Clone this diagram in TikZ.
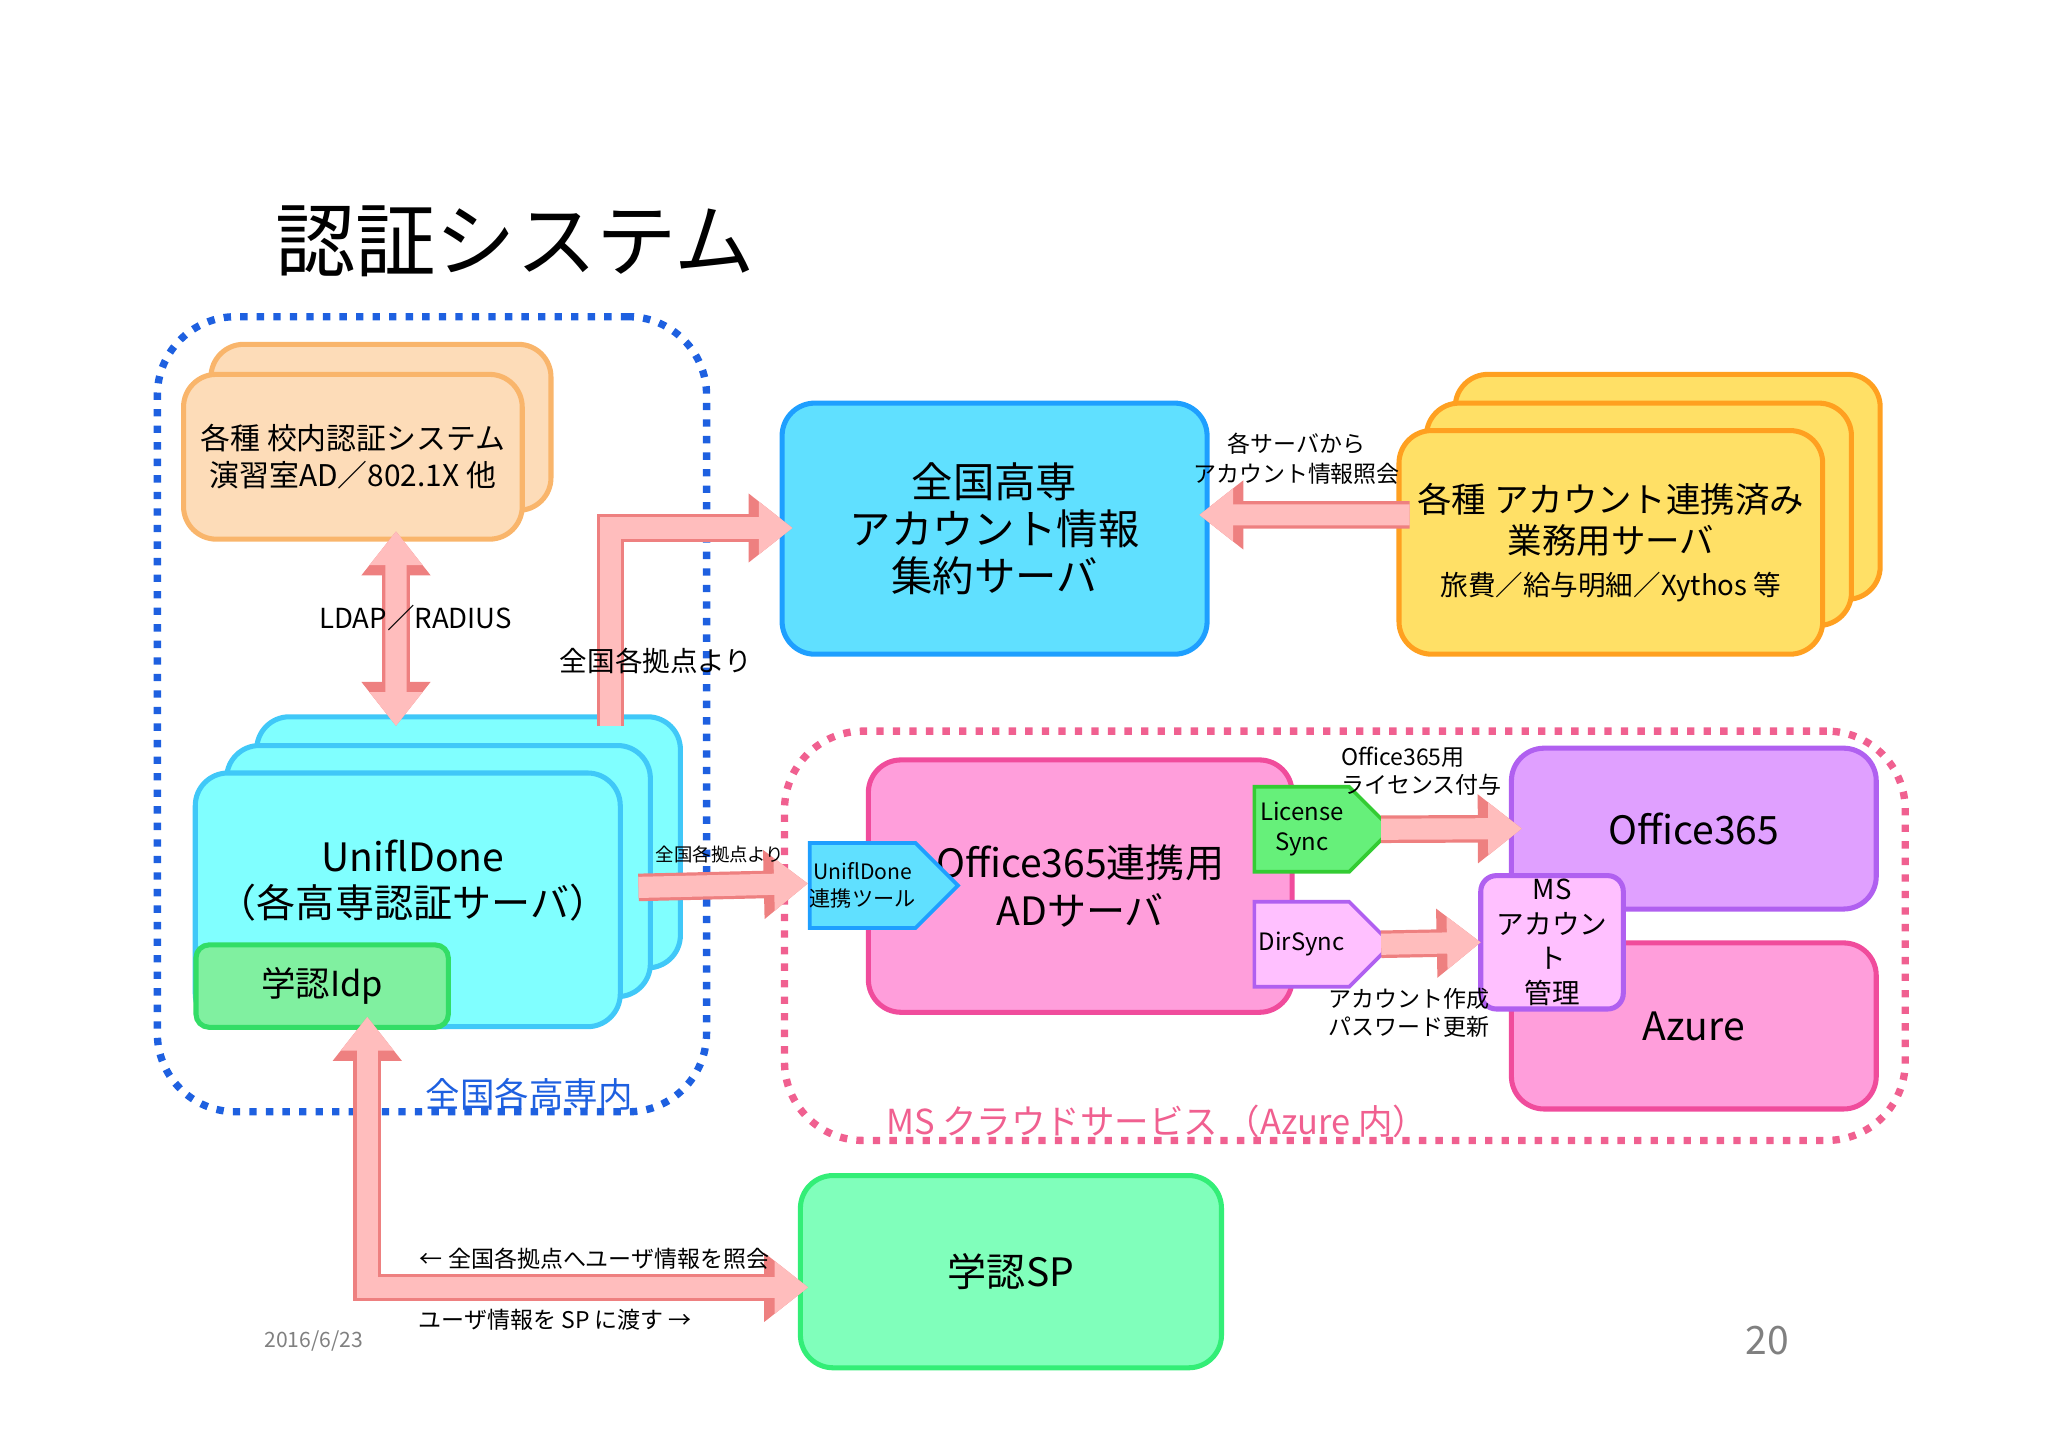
\documentclass[tikz,border=0pt]{standalone}
\usepackage{fontspec}
\setmainfont{Noto Sans CJK JP}
\usetikzlibrary{positioning,shapes.symbols,arrows.meta}
\definecolor{fatfill}{HTML}{FFBDBD}
\definecolor{fatline}{HTML}{EE8080}
\definecolor{oraf}{HTML}{FDDCB8}\definecolor{orad}{HTML}{F9B56B}
\definecolor{cyaf}{HTML}{80FFFF}\definecolor{cyad}{HTML}{40C8F8}
\definecolor{grnf}{HTML}{80F0A0}\definecolor{grnd}{HTML}{33DD66}
\definecolor{bluf}{HTML}{60E0FF}\definecolor{blud}{HTML}{1E9FFF}
\definecolor{yelf}{HTML}{FFE066}\definecolor{yeld}{HTML}{FFA020}
\definecolor{pnkf}{HTML}{FF9EDB}\definecolor{pnkd}{HTML}{F04C9C}
\definecolor{viof}{HTML}{E0A0FF}\definecolor{viod}{HTML}{B060F0}
\definecolor{lvif}{HTML}{FFC0FF}\definecolor{licf}{HTML}{66F07A}\definecolor{licd}{HTML}{33CC33}
\definecolor{spf}{HTML}{80FFBB}\definecolor{spd}{HTML}{33EE77}
\definecolor{regb}{HTML}{1E60E0}\definecolor{regp}{HTML}{F06090}
\tikzset{
  box/.style={draw, rounded corners=0.25cm, line width=1.1pt, inner sep=0pt, align=center},
  tag/.style={draw, signal, signal to=east, line width=0.8pt, inner sep=0pt, align=center},
  region/.style={draw, dotted, line width=1.6pt, rounded corners=0.6cm},
  lbl/.style={inner sep=1pt, align=center},
  fat/.style={line width=4.6pt, draw=fatfill, -{Triangle[length=0pt 1.6,width=0pt 2.4]},
    preaction={draw=fatline, line width=6pt, -{Triangle[length=0pt 1.6,width=0pt 2.4]}}},
  fatboth/.style={line width=4.6pt, draw=fatfill, {Triangle[length=0pt 1.6,width=0pt 2.4]}-{Triangle[length=0pt 1.6,width=0pt 2.4]},
    preaction={draw=fatline, line width=6pt, {Triangle[length=0pt 1.6,width=0pt 2.4]}-{Triangle[length=0pt 1.6,width=0pt 2.4]}}}
}
\begin{document}
\begin{tikzpicture}[x=0.01cm, y=-0.01cm]
\useasboundingbox (0,0) rectangle (1567,1107);
% title
\node[anchor=west, font=\fontsize{17.5pt}{20pt}\selectfont] (title) at (198,185) {認証システム};
% regions
\node[region, draw=regb, minimum width=4.2cm, minimum height=6.08cm] (kosen) at (330.5,546.5) {};
\node[region, draw=regp, minimum width=8.57cm, minimum height=3.13cm] (cloud) at (1029,716) {};
\node[lbl, text=regb, font=\fontsize{7.5pt}{9pt}\selectfont] (kosenlbl) at (405,837) {全国各高専内};
\node[lbl, text=regp, font=\fontsize{7.5pt}{9pt}\selectfont] (cloudlbl) at (885,858) {MS クラウドサービス （Azure 内）};
% campus auth
\node[box, fill=oraf, draw=orad, minimum width=2.6cm, minimum height=1.27cm] (ora2) at (291.5,327) {};
\node[box, fill=oraf, draw=orad, minimum width=2.59cm, minimum height=1.26cm, font=\fontsize{6.5pt}{8pt}\selectfont] (ora1) at (270,349.5) {各種 校内認証システム\\演習室AD／802.1X 他};
% UniflDone stack
\node[box, fill=cyaf, draw=cyad, minimum width=3.24cm, minimum height=1.92cm] (cya3) at (358.5,644.5) {};
\node[box, fill=cyaf, draw=cyad, minimum width=3.24cm, minimum height=1.92cm] (cya2) at (335.5,666.5) {};
\node[box, fill=cyaf, draw=cyad, minimum width=3.25cm, minimum height=1.94cm] (cya1) at (312,688.5) {};
\node[lbl, font=\fontsize{8.5pt}{10pt}\selectfont] (cyatext) at ([xshift=0.04cm, yshift=0.15cm]cya1.center) {UniflDone\\（各高専認証サーバ）};
\node[box, fill=grnf, draw=grnd, minimum width=1.93cm, minimum height=0.63cm, rounded corners=0.1cm, font=\fontsize{7.5pt}{9pt}\selectfont] (idp) at (246.5,754.5) {学認Idp};
% aggregation server
\node[box, fill=bluf, draw=blud, minimum width=3.25cm, minimum height=1.92cm, font=\fontsize{9pt}{10.2pt}\selectfont] (agg) at (761,404.5) {全国高専\\アカウント情報\\集約サーバ};
% business servers
\node[box, fill=yelf, draw=yeld, minimum width=3.25cm, minimum height=1.72cm] (yel3) at (1276,372.5) {};
\node[box, fill=yelf, draw=yeld, minimum width=3.25cm, minimum height=1.70cm] (yel2) at (1254,393.5) {};
\node[box, fill=yelf, draw=yeld, minimum width=3.24cm, minimum height=1.71cm, font=\fontsize{7.5pt}{9pt}\selectfont] (yel1) at (1232.5,415) {各種 アカウント連携済み\\業務用サーバ\\{\fontsize{6pt}{8pt}\selectfont 旅費／給与明細／Xythos 等}};
% cloud side
\node[box, fill=pnkf, draw=pnkd, minimum width=3.24cm, minimum height=1.93cm, font=\fontsize{8.5pt}{10.5pt}\selectfont] (ad) at (826.5,678) {Office365連携用\\ADサーバ};
\node[tag, fill=bluf, draw=blud, minimum width=1.0cm, minimum height=0.65cm, font=\fontsize{4.6pt}{6pt}\selectfont] (tool) at (660,677.5) {UniflDone\\連携ツール};
\node[tag, fill=licf, draw=licd, minimum width=1.05cm, minimum height=0.65cm, font=\fontsize{5.2pt}{6.5pt}\selectfont] (lic) at (996,634.5) {License\\Sync};
\node[tag, fill=lvif, draw=viod, minimum width=1.05cm, minimum height=0.65cm, font=\fontsize{5.2pt}{6.5pt}\selectfont] (dir) at (996,722.5) {DirSync};
\node[box, fill=viof, draw=viod, minimum width=2.79cm, minimum height=1.23cm, font=\fontsize{8.5pt}{10pt}\selectfont] (o365) at (1296,634) {Office365};
\node[box, fill=pnkf, draw=pnkd, minimum width=2.79cm, minimum height=1.27cm, font=\fontsize{8.5pt}{10pt}\selectfont] (azure) at (1296,785) {Azure};
\node[box, fill=lvif, draw=viod, minimum width=1.09cm, minimum height=1.02cm, rounded corners=0.12cm, font=\fontsize{6pt}{7.6pt}\selectfont] (msacc) at (1187.5,721) {MS\\アカウン\\ト\\管理};
% SP
\node[box, fill=spf, draw=spd, minimum width=3.22cm, minimum height=1.47cm, font=\fontsize{8.5pt}{10pt}\selectfont] (sp) at (773.5,973) {学認SP};
% connectors
\draw[fatboth] ([xshift=0.33cm, yshift=0.08cm]ora1.south) -- ([xshift=-0.555cm, yshift=-0.09cm]cya3.north);
\draw[fat] ([xshift=1.085cm, yshift=-0.09cm]cya3.north) |- ([xshift=0.1cm, yshift=0.005cm]agg.west);
\draw[fat] ([xshift=0.1cm, yshift=0.21cm]yel1.west) -- ([xshift=-0.08cm, yshift=0.105cm]agg.east);
\draw[fat] ([xshift=0.12cm, yshift=0.095cm]cya1.east) -- ([yshift=0.015cm]tool.west);
\draw[fat] ([xshift=-0.1cm]lic.east) -- ([xshift=0.1cm]o365.west);
\draw[fat] ([xshift=-0.1cm]dir.east) -- ([xshift=0.02cm]msacc.west);
\draw[fatboth] ([xshift=0.345cm, yshift=0.1cm]idp.south) |- ([xshift=0.08cm, yshift=-0.12cm]sp.west);
% labels
\node[lbl, font=\fontsize{6pt}{8pt}\selectfont] (ldaplbl) at (318,473) {LDAP／RADIUS};
\node[lbl, font=\fontsize{6pt}{8pt}\selectfont] (fromall) at (502,506) {全国各拠点より};
\node[lbl, font=\fontsize{5pt}{6.4pt}\selectfont] (query) at (992,351) {各サーバから\\アカウント情報照会};
\node[lbl, font=\fontsize{4pt}{5pt}\selectfont] (fromall2) at (551,654) {全国各拠点より};
\node[lbl, anchor=west, align=left, font=\fontsize{5pt}{6pt}\selectfont] (liclbl) at (1022,590) {Office365用\\ライセンス付与};
\node[lbl, anchor=west, align=left, font=\fontsize{5pt}{6pt}\selectfont] (dirlbl) at (1012,775) {アカウント作成\\パスワード更新};
\node[lbl, font=\fontsize{5pt}{6.5pt}\selectfont] (asklbl) at (455,963) {← 全国各拠点へユーザ情報を照会};
\node[lbl, font=\fontsize{5pt}{6.5pt}\selectfont] (passlbl) at (425,1010) {ユーザ情報を SP に渡す →};
\node[lbl, text=gray, font=\fontsize{4.6pt}{6pt}\selectfont] (date) at (240,1026) {2016/6/23};
\node[lbl, text=gray, font=\fontsize{8.5pt}{10pt}\selectfont] (page) at (1352,1026) {20};
\end{tikzpicture}
\end{document}
